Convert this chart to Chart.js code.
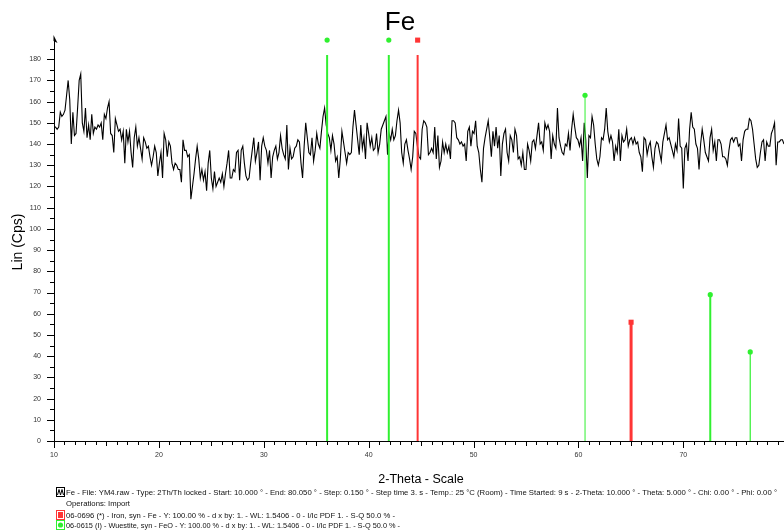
<!DOCTYPE html>
<html>
<head>
<meta charset="utf-8">
<script src="https://cdn.jsdelivr.net/npm/chart.js@4.4.1/dist/chart.umd.min.js"></script>
<style>
html,body{margin:0;padding:0;background:#fff}
#wrap{width:784px;height:532px}
</style>
</head>
<body>
<div id="wrap"><canvas id="c" width="784" height="532"></canvas></div>
<script>
// scan settings (from the file header) and counts
const thetaStart = 10.0;
const thetaStep = 0.15;
const counts = [
  148,148,147,148,155,153,154,156,163,170,161,140,155,144,145,157,170,173,150,146,
  157,143,149,142,154,145,148,147,149,148,150,142,154,152,157,160,145,144,136,152,
  149,146,147,142,146,131,147,141,146,136,129,143,148,139,143,138,133,143,141,138,
  139,134,130,134,139,136,125,131,136,124,145,142,134,141,139,131,128,131,130,128,
  128,122,142,137,137,134,135,114,120,126,133,139,133,124,128,123,127,118,131,137,
  124,119,127,120,122,124,122,126,120,126,131,137,124,124,128,127,136,137,123,137,
  139,131,125,123,124,131,137,143,132,136,141,123,139,143,139,137,131,137,124,134,
  137,139,133,136,144,138,135,133,149,128,138,133,134,138,139,142,141,131,124,139,
  150,143,136,135,143,132,137,145,140,138,146,153,157,149,145,143,137,144,140,132,
  134,124,133,146,141,136,131,136,135,136,148,156,149,142,135,149,138,143,133,150,
  145,139,143,137,138,145,136,140,147,149,151,153,135,145,142,147,142,144,151,156,
  150,136,131,140,142,137,133,128,134,146,145,139,134,133,147,151,150,148,135,136,
  138,136,148,133,144,129,132,141,136,140,136,139,133,151,151,150,143,142,140,141,
  139,140,132,146,148,139,146,145,151,139,136,128,122,138,143,147,151,143,134,146,
  139,148,138,144,125,140,145,147,136,132,144,142,136,147,144,133,134,130,136,128,
  128,140,137,132,141,142,138,144,150,140,141,137,150,147,149,146,133,144,140,138,
  157,143,139,136,135,140,139,145,137,147,154,148,143,142,139,143,132,150,142,124,
  144,143,153,149,140,133,130,134,143,142,147,157,146,141,144,141,132,139,136,147,
  132,144,141,142,147,139,142,143,140,143,140,141,136,134,127,143,142,135,139,141,
  134,129,138,141,140,136,132,141,145,149,142,143,140,137,134,140,137,152,139,138,
  119,138,140,132,147,155,148,147,140,138,128,140,147,142,136,134,132,143,147,137,
  141,132,142,142,140,134,134,133,130,137,142,143,141,143,143,139,140,132,142,146,
  147,147,152,151,147,140,133,129,130,136,141,142,132,141,139,139,145,147,150,130,
  141,141,142,142,140,139,141,142
];

// reference patterns: 2-theta positions and drawn heights
const fePos = [44.67, 65.02];
const feInt = [189, 56];
const feoPos = [36.04, 41.92, 60.63, 72.57, 76.38];
const feoInt = [189, 189, 163, 69, 42];

const yMax = 190;
const stickTop = 182; // sticks stop here, marker sits above
const GREEN = '#30f030', RED = '#ff3535';

const legendLines = [
  'Fe - File: YM4.raw - Type: 2Th/Th locked - Start: 10.000 \u00b0 - End: 80.050 \u00b0 - Step: 0.150 \u00b0 - Step time 3. s - Temp.: 25 \u00b0C (Room) - Time Started: 9 s - 2-Theta: 10.000 \u00b0 - Theta: 5.000 \u00b0 - Chi: 0.00 \u00b0 - Phi: 0.00 \u00b0',
  'Operations: Import',
  '06-0696 (*) - Iron, syn - Fe - Y: 100.00 % - d x by: 1. - WL: 1.5406 - 0 - I/Ic PDF 1. - S-Q 50.0 % -',
  '06-0615 (I) - Wuestite, syn - FeO - Y: 100.00 % - d x by: 1. - WL: 1.5406 - 0 - I/Ic PDF 1. - S-Q 50.0 % -'
];

const scan = counts.map((c,i)=>({x: thetaStart + i*thetaStep, y: c}));

function stickSets(pos, ints, color, widths, style, radius){
  const ds = pos.map((p,i)=>({
    data:[{x:p,y:0},{x:p,y:Math.min(ints[i],stickTop)}],
    showLine:true, borderColor:color, borderWidth:widths[i], pointRadius:0, order:1
  }));
  ds.push({
    data: pos.map((p,i)=>({x:p,y:ints[i]})),
    pointStyle:style, pointRadius:radius, backgroundColor:color, borderColor:color,
    borderWidth:0, order:0, clip:false
  });
  return ds;
}

const decor = {
  id:'decor',
  afterDraw(chart){
    const {ctx, scales:{x,y}, chartArea:a} = chart;
    ctx.save();
    ctx.strokeStyle = '#000'; ctx.lineWidth = 1;
    ctx.beginPath();
    for(let t=10;t<=79;t++){
      const px = Math.round(x.getPixelForValue(t))+0.5;
      const len = t%10===0 ? 7 : (t%5===0 ? 5 : 4);
      ctx.moveTo(px, a.bottom); ctx.lineTo(px, a.bottom+len);
    }
    for(let v=0;v<=185;v+=5){
      const py = Math.round(y.getPixelForValue(v))+0.5;
      const len = v%10===0 ? 7 : 4;
      ctx.moveTo(a.left-len, py); ctx.lineTo(a.left, py);
    }
    ctx.stroke();
    // arrow on top of y axis
    ctx.fillStyle = '#000';
    ctx.beginPath();
    ctx.moveTo(a.left-0.5, a.top-3); ctx.lineTo(a.left+3.5, a.top+5); ctx.lineTo(a.left-0.5, a.top+3);
    ctx.closePath(); ctx.fill();

    // titles
    ctx.fillStyle = '#000';
    ctx.textAlign = 'center'; ctx.textBaseline = 'alphabetic';
    ctx.font = '26px "Liberation Sans", Arial, sans-serif';
    ctx.fillText('Fe', 400, 30);
    ctx.font = '12.5px "Liberation Sans", Arial, sans-serif';
    ctx.fillText('2-Theta - Scale', 421, 483);
    ctx.save();
    ctx.translate(22, 242); ctx.rotate(-Math.PI/2);
    ctx.font = '14px "Liberation Sans", Arial, sans-serif';
    ctx.fillText('Lin (Cps)', 0, 0);
    ctx.restore();

    // legend block
    ctx.textAlign = 'left';
    ctx.font = '8px "Liberation Sans", Arial, sans-serif';
    ctx.fillStyle = '#111';
    const rows = [[495,711],[506,64],[518,329],[528,334]];
    legendLines.forEach((s,i)=>ctx.fillText(s, 66, rows[i][0], rows[i][1]));

    // icons
    ctx.strokeStyle = '#000'; ctx.lineWidth = 1;
    ctx.strokeRect(56.5, 487.5, 8, 9);
    ctx.beginPath();
    ctx.moveTo(57.5,495); ctx.lineTo(59,489.5); ctx.lineTo(60.5,495); ctx.lineTo(62,489.5); ctx.lineTo(63.5,495);
    ctx.stroke();
    ctx.strokeStyle = RED; ctx.strokeRect(56.5, 510.5, 8, 9);
    ctx.fillStyle = RED; ctx.fillRect(58, 512, 5, 6);
    ctx.strokeStyle = GREEN; ctx.strokeRect(56.5, 520.5, 8, 9);
    ctx.fillStyle = GREEN; ctx.beginPath(); ctx.arc(60.5, 525, 2.6, 0, Math.PI*2); ctx.fill();
    ctx.restore();
  }
};

new Chart(document.getElementById('c'), {
  type:'scatter',
  data:{
    datasets:[
      {data:scan, showLine:true, borderColor:'#000', borderWidth:1.1, pointRadius:0, order:5},
      ...stickSets(feoPos, feoInt, GREEN, [2,2,1,2,1.2], 'circle', 2.6),
      ...stickSets(fePos, feInt, RED, [2,3], 'rect', 3.6)
    ]
  },
  options:{
    responsive:false,
    animation:false,
    layout:{autoPadding:false, padding:{top:38,left:0,right:0,bottom:0}},
    plugins:{legend:{display:false}, tooltip:{enabled:false}},
    scales:{
      x:{
        type:'linear', min:10, max:79.6,
        afterFit(s){ s.height = 91; s.paddingLeft = 0; s.paddingRight = 0; },
        border:{display:true, color:'#000', width:1},
        grid:{display:false, drawTicks:false},
        ticks:{stepSize:10, padding:10, color:'#333', maxRotation:0,
          font:{family:'"Liberation Sans", Arial', size:7},
          callback:v => v%10===0 ? v : null}
      },
      y:{
        min:0, max:yMax,
        afterFit(s){ s.width = 54; s.paddingTop = 0; s.paddingBottom = 0; },
        border:{display:true, color:'#000', width:1},
        grid:{display:false, drawTicks:false},
        ticks:{stepSize:10, padding:13, color:'#333',
          font:{family:'"Liberation Sans", Arial', size:7},
          callback:v => v<=180 ? v : null}
      }
    }
  },
  plugins:[decor]
});
</script>
</body>
</html>
